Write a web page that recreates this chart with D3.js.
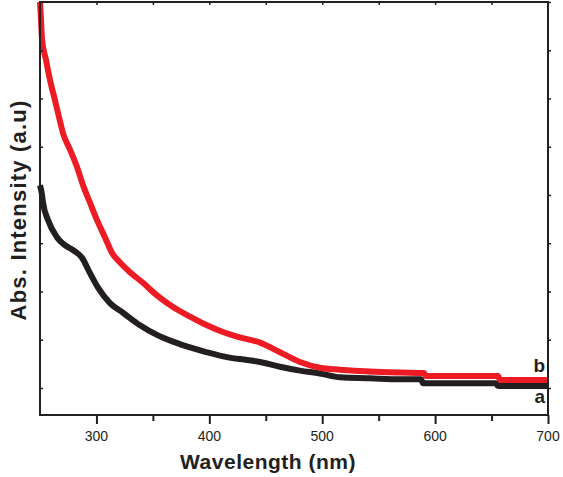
<!DOCTYPE html>
<html>
<head>
<meta charset="utf-8">
<script src="https://cdn.jsdelivr.net/npm/d3@7"></script>
<style>
  body { margin: 0; background: #fff; }
  svg { display: block; font-family: "Liberation Sans", Arial, sans-serif; }
  .frame { stroke: #231f20; stroke-width: 2; fill: none; }
  .tick-label { font-size: 14px; fill: #231f20; }
  .axis-title { font-size: 21px; font-weight: bold; fill: #231f20; }
  .curve { fill: none; stroke-width: 6; stroke-linejoin: round; }
</style>
</head>
<body>
<div id="chart"></div>
<script>
// wavelength (nm) / absorbance (a.u.)
const wlA = [250, 251.8, 252.7, 257.1, 265.1, 272.1, 279.2, 287.2, 294.3, 301.4, 312, 323.5, 338.6, 353.6, 367.8, 382.9, 397.9, 415.6, 433.4, 444.9, 462.6, 480.3, 498, 515.8, 542.3, 568.9, 587.5, 589.3, 653.9, 655.7, 700];
const absA = [2.10, 2.00, 1.92, 1.74, 1.56, 1.48, 1.43, 1.35, 1.19, 1.04, 0.88, 0.78, 0.65, 0.55, 0.48, 0.42, 0.37, 0.32, 0.29, 0.27, 0.22, 0.18, 0.15, 0.11, 0.10, 0.09, 0.09, 0.05, 0.05, 0.02, 0.02];

const wlB = [250, 250.9, 251.8, 255.3, 258.9, 263.3, 266.8, 270.4, 276.6, 283.7, 288.1, 294.3, 300.5, 307.6, 313.8, 320.9, 329.7, 341.2, 353.6, 367.8, 382.9, 397.9, 412.1, 425.4, 444.9, 462.6, 480.3, 498, 515.8, 542.3, 568.9, 590.2, 591.9, 655.7, 657.5, 700];
const absB = [4.00, 3.81, 3.61, 3.40, 3.19, 2.98, 2.81, 2.64, 2.47, 2.26, 2.10, 1.92, 1.74, 1.56, 1.40, 1.30, 1.20, 1.09, 0.96, 0.84, 0.74, 0.65, 0.58, 0.53, 0.47, 0.37, 0.27, 0.21, 0.19, 0.17, 0.16, 0.155, 0.124, 0.124, 0.083, 0.083];

const xTicks = [300, 400, 500, 600, 700];
const xMinorTicks = [300, 350, 400, 450, 500, 550, 600, 650];
const yTicks = [0, 0.5, 1, 1.5, 2, 2.5, 3, 3.5, 4];

const width = 563,
      height = 477,
      margin = {top: 2, right: 15, bottom: 62, left: 40};

const chartWidth = width - margin.left - margin.right,
      chartHeight = height - margin.top - margin.bottom;

const svg = d3.select('#chart').append('svg')
    .attr('width', width)
    .attr('height', height);

const x = d3.scaleLinear().domain([250, 700]).range([0, chartWidth]);
const y = d3.scaleLinear().domain([-0.28, 4.0]).range([chartHeight, 0]);

const chart = svg.append('g')
    .attr('transform', `translate(${margin.left}, ${margin.top})`);

// curves: a (black) below, b (red) on top
const line = d3.line()
    .curve(d3.curveMonotoneX)
    .x(d => x(d[0]))
    .y(d => y(d[1]));

chart.append('path')
    .attr('class', 'curve')
    .attr('stroke', '#231f20')
    .attr('d', line(d3.zip(wlA, absA)));

chart.append('path')
    .attr('class', 'curve')
    .attr('stroke', '#ed1c24')
    .attr('d', line(d3.zip(wlB, absB)));

// bottom axis ticks (major + minor)
const bottomMajor = d3.axisBottom(x).tickValues(xTicks).tickSize(9).tickFormat('');
const bottomMinor = d3.axisBottom(x).tickValues([350, 450, 550, 650]).tickSize(6).tickFormat('');

[bottomMajor, bottomMinor].forEach(ax => {
  const g = chart.append('g')
      .attr('transform', `translate(0, ${chartHeight})`)
      .call(ax);
  g.select('.domain').remove();
  g.selectAll('line').attr('stroke', '#231f20').attr('stroke-width', 2);
});

// tick labels
chart.append('g')
    .selectAll('text')
    .data(xTicks)
    .enter().append('text')
    .attr('class', 'tick-label')
    .attr('x', d => x(d))
    .attr('y', chartHeight + 26)
    .attr('text-anchor', 'middle')
    .text(d => d);

// top axis, small inward ticks
const topAxis = chart.append('g').call(d3.axisBottom(x).tickValues(xMinorTicks).tickSize(3).tickFormat(''));
topAxis.select('.domain').remove();
topAxis.selectAll('line').attr('stroke', '#231f20').attr('stroke-width', 1.5);

// left / right ticks
const leftAxis = chart.append('g').call(d3.axisRight(y).tickValues(yTicks).tickSize(3).tickFormat(''));
leftAxis.select('.domain').remove();
leftAxis.selectAll('line').attr('stroke', '#231f20').attr('stroke-width', 1.5);

const rightAxis = chart.append('g')
    .attr('transform', `translate(${chartWidth}, 0)`)
    .call(d3.axisRight(y).tickValues(yTicks).tickSize(3).tickFormat(''));
rightAxis.select('.domain').remove();
rightAxis.selectAll('line').attr('stroke', '#231f20').attr('stroke-width', 1.5);

// frame
chart.append('rect')
    .attr('class', 'frame')
    .attr('x', 0)
    .attr('y', 0)
    .attr('width', chartWidth)
    .attr('height', chartHeight);

// curve labels
chart.append('text')
    .attr('class', 'axis-title')
    .attr('x', x(700) - 3)
    .attr('y', y(absB[absB.length - 1]) - 8)
    .attr('text-anchor', 'end')
    .style('font-size', '19px')
    .text('b');

chart.append('text')
    .attr('class', 'axis-title')
    .attr('x', x(700) - 3)
    .attr('y', y(absA[absA.length - 1]) + 17)
    .attr('text-anchor', 'end')
    .style('font-size', '19px')
    .text('a');

// axis titles
svg.append('text')
    .attr('class', 'axis-title')
    .attr('x', 268)
    .attr('y', 469)
    .attr('text-anchor', 'middle')
    .style('letter-spacing', '0.5px')
    .text('Wavelength (nm)');

svg.append('text')
    .attr('class', 'axis-title')
    .attr('transform', 'translate(26, 210) rotate(-90)')
    .attr('text-anchor', 'middle')
    .style('font-size', '22px')
    .style('letter-spacing', '1.2px')
    .text('Abs. Intensity (a.u)');
</script>
</body>
</html>
